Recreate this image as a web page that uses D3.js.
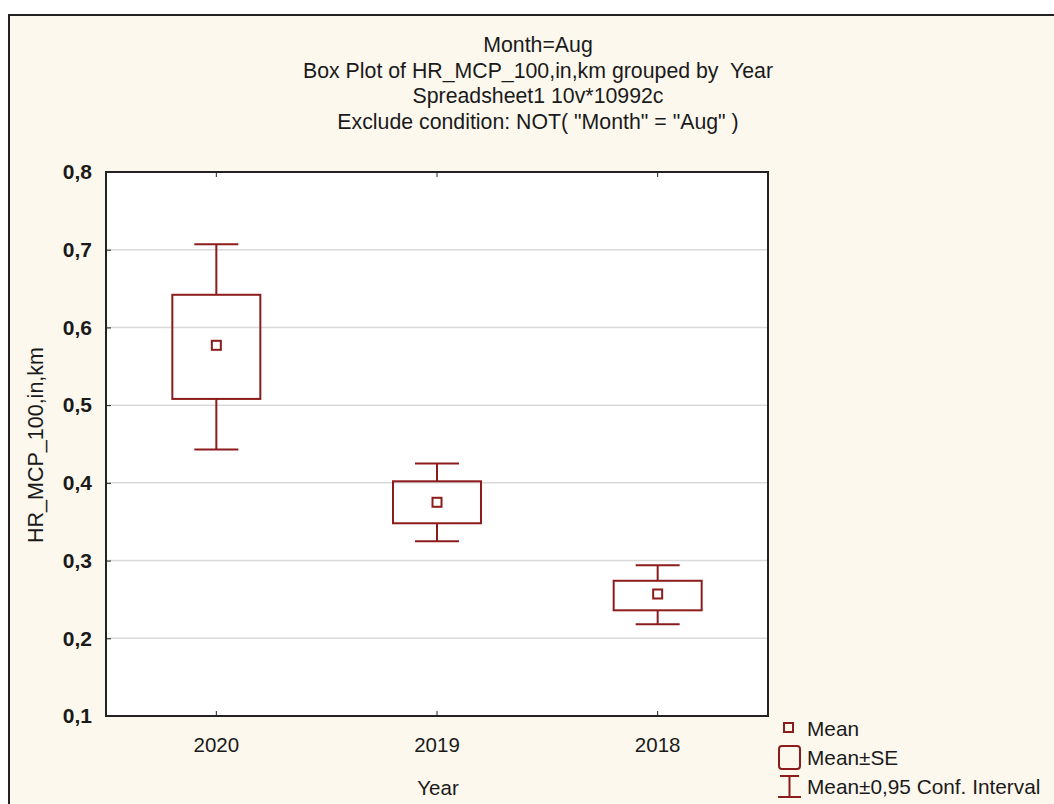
<!DOCTYPE html>
<html>
<head>
<meta charset="utf-8">
<script src="https://cdn.jsdelivr.net/npm/d3@7"></script>
<style>
  html, body { margin: 0; padding: 0; background: #ffffff; }
  svg { display: block; }
  text { font-family: "Liberation Sans", Arial, sans-serif; fill: #1a1a1a; }
</style>
</head>
<body>
<svg id="chart" width="1054" height="804"></svg>
<script>
// Box plot of HR_MCP_100 (km) by year, August only
const years = ["2020", "2019", "2018"];
const means = [0.577, 0.375, 0.257];
const seLow = [0.508, 0.348, 0.236];
const seHigh = [0.642, 0.402, 0.274];
const ciLow = [0.443, 0.325, 0.218];
const ciHigh = [0.707, 0.425, 0.294];
const yTicks = [0.1, 0.2, 0.3, 0.4, 0.5, 0.6, 0.7, 0.8];
const titleLines = [
  "Month=Aug",
  "Box Plot of HR_MCP_100,in,km grouped by  Year",
  "Spreadsheet1 10v*10992c",
  "Exclude condition: NOT( \"Month\" = \"Aug\" )"
];
const legendItems = ["Mean", "Mean\u00B1SE", "Mean\u00B10,95 Conf. Interval"];

const markColor = "#8c1c1c";
const svg = d3.select("#chart");

// page background and outer frame
svg.append("rect").attr("x", 0).attr("y", 0).attr("width", 1054).attr("height", 804).attr("fill", "#ffffff");
svg.append("rect").attr("x", 9).attr("y", 15).attr("width", 1060).attr("height", 800)
  .attr("fill", "#fdf8ee").attr("stroke", "#222").attr("stroke-width", 2);

const plot = { left: 106, right: 768, top: 172, bottom: 716 };

const x = d3.scaleBand().domain(years).range([plot.left, plot.right]);
const y = d3.scaleLinear().domain([0.1, 0.8]).range([plot.bottom, plot.top]);
const fmt = d => d3.format(".1f")(d).replace(".", ",");

// plot area
svg.append("rect").attr("x", plot.left).attr("y", plot.top)
  .attr("width", plot.right - plot.left).attr("height", plot.bottom - plot.top)
  .attr("fill", "#ffffff");

// gridlines
svg.append("g").selectAll("line").data(yTicks.slice(1, -1)).join("line")
  .attr("x1", plot.left).attr("x2", plot.right)
  .attr("y1", d => y(d)).attr("y2", d => y(d))
  .attr("stroke", "#d9d9d9").attr("stroke-width", 1.5);

// left axis with inward ticks
const yAxis = svg.append("g").attr("transform", `translate(${plot.left},0)`)
  .call(d3.axisLeft(y).tickValues(yTicks).tickFormat(fmt).tickSize(-5).tickPadding(14));
yAxis.select(".domain").remove();
yAxis.selectAll("line").attr("stroke", "#222");
yAxis.selectAll("text").attr("font-size", 21).attr("font-weight", "bold").attr("fill", "#333");

// bottom axis labels and inward ticks
const xAxis = svg.append("g").attr("transform", `translate(0,${plot.bottom})`)
  .call(d3.axisBottom(x).tickSize(-5).tickPadding(21));
xAxis.select(".domain").remove();
xAxis.selectAll("line").attr("stroke", "#222");
xAxis.selectAll("text").attr("font-size", 20.5).attr("fill", "#222");

// top ticks
const xTop = svg.append("g").attr("transform", `translate(0,${plot.top})`)
  .call(d3.axisTop(x).tickSize(-5).tickFormat(""));
xTop.select(".domain").remove();
xTop.selectAll("line").attr("stroke", "#222");

// plot frame
svg.append("rect").attr("x", plot.left).attr("y", plot.top)
  .attr("width", plot.right - plot.left).attr("height", plot.bottom - plot.top)
  .attr("fill", "none").attr("stroke", "#222").attr("stroke-width", 2);

// boxes
const boxW = 88, capW = 44, meanS = 9;
const rows = years.map((yr, i) => ({ yr, m: means[i], sl: seLow[i], sh: seHigh[i], cl: ciLow[i], ch: ciHigh[i] }));
const g = svg.append("g").attr("stroke", markColor).attr("stroke-width", 2).attr("fill", "none");
const grp = g.selectAll("g").data(rows).join("g")
  .attr("transform", d => `translate(${x(d.yr) + x.bandwidth() / 2},0)`);
grp.append("line").attr("x1", 0).attr("x2", 0).attr("y1", d => y(d.ch)).attr("y2", d => y(d.sh));
grp.append("line").attr("x1", 0).attr("x2", 0).attr("y1", d => y(d.sl)).attr("y2", d => y(d.cl));
grp.append("line").attr("x1", -capW / 2).attr("x2", capW / 2).attr("y1", d => y(d.ch)).attr("y2", d => y(d.ch));
grp.append("line").attr("x1", -capW / 2).attr("x2", capW / 2).attr("y1", d => y(d.cl)).attr("y2", d => y(d.cl));
grp.append("rect").attr("x", -boxW / 2).attr("width", boxW)
  .attr("y", d => y(d.sh)).attr("height", d => y(d.sl) - y(d.sh));
grp.append("rect").attr("x", -meanS / 2).attr("width", meanS)
  .attr("y", d => y(d.m) - meanS / 2).attr("height", meanS);

// titles, centred on the whole frame
svg.append("g").selectAll("text").data(titleLines).join("text")
  .attr("x", 538).attr("y", (d, i) => 52 + i * 25.7)
  .attr("xml:space", "preserve").style("white-space", "pre")
  .attr("text-anchor", "middle").attr("font-size", 21.3).text(d => d);

// axis titles
svg.append("text").attr("transform", "translate(43,445) rotate(-90)")
  .attr("text-anchor", "middle").attr("font-size", 21.5).text("HR_MCP_100,in,km");
svg.append("text").attr("x", 438).attr("y", 795)
  .attr("text-anchor", "middle").attr("font-size", 20.5).text("Year");

// legend
const lg = svg.append("g");
lg.append("rect").attr("x", 784).attr("y", 723).attr("width", 9).attr("height", 9)
  .attr("fill", "none").attr("stroke", markColor).attr("stroke-width", 2);
lg.append("rect").attr("x", 779).attr("y", 746).attr("width", 21).attr("height", 23).attr("rx", 3)
  .attr("fill", "none").attr("stroke", markColor).attr("stroke-width", 2);
lg.append("path").attr("d", "M780,776H799M789.5,776V797M778,797H801")
  .attr("fill", "none").attr("stroke", markColor).attr("stroke-width", 2);
lg.selectAll("text").data(legendItems).join("text")
  .attr("x", 807).attr("y", (d, i) => 736 + i * 29)
  .attr("font-size", 20.8).attr("fill", "#1f1f3a").text(d => d);
</script>
</body>
</html>
